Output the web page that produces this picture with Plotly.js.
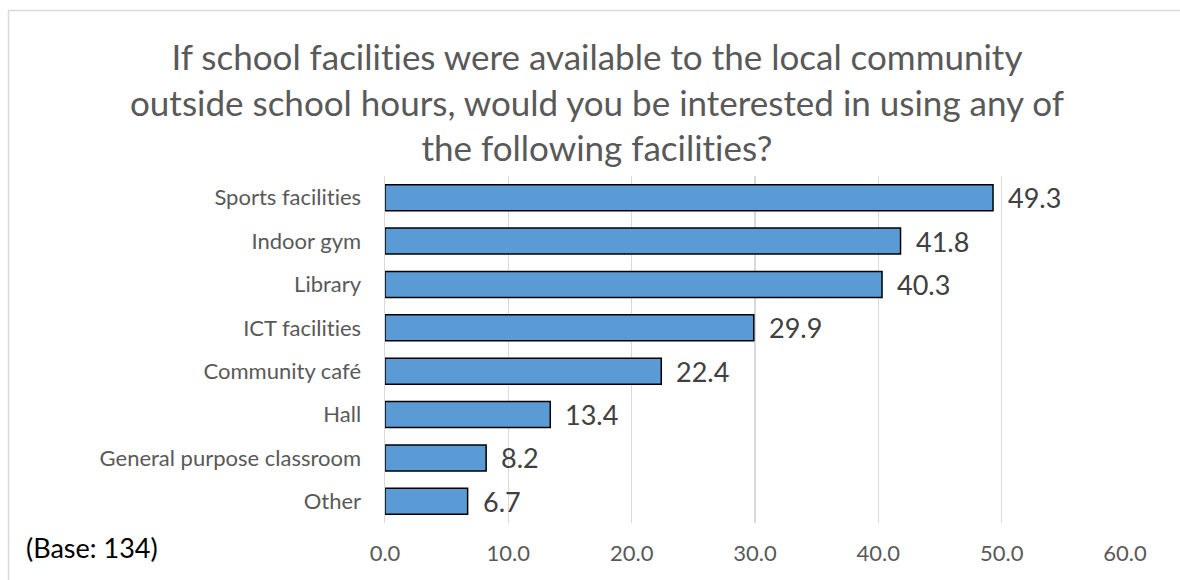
<!DOCTYPE html>
<html>
<head>
<meta charset="utf-8">
<script src="https://cdn.plot.ly/plotly-3.0.1.min.js"></script>
<style>
html,body{margin:0;padding:0;background:#fff;}
#chart{width:1180px;height:580px;}
#chart text{font-variant-ligatures:none;font-feature-settings:"liga" 0,"clig" 0;}
</style>
</head>
<body>
<div id="chart"></div>
<script>
const categories = ["Sports facilities","Indoor gym","Library","ICT facilities","Community café","Hall","General purpose classroom","Other"];
const values = [49.3, 41.8, 40.3, 29.9, 22.4, 13.4, 8.2, 6.7];
const tickValues = [0,10,20,30,40,50,60];
const tickLabels = ["0.0","10.0","20.0","30.0","40.0","50.0","60.0"];
const titleText = "If school facilities were available to the local community<br>outside school hours, would you be interested in using any of<br>the following facilities?";
const baseNote = "(Base: 134)";

const FONT = "Lato, 'Open Sans', sans-serif";
// pixel helpers for plot area l=385, r=1125, t=176, b=523
const L=385, R=1125, T=176, B=523;
const px = x => (x - L)/(R - L);
const py = y => (B - y)/(B - T);

const trace = {
  type: 'bar',
  orientation: 'h',
  x: values,
  y: categories,
  marker: {color: '#5B9BD5', line: {color: '#000000', width: 1.5}},
  cliponaxis: false,
  hoverinfo: 'none'
};

const valueLabels = values.map((v, i) => ({
  text: v.toFixed(1), x: v, y: categories[i], xref: 'x', yref: 'y',
  xanchor: 'left', yanchor: 'middle', xshift: 13, yshift: 0, showarrow: false,
  font: {family: FONT, size: 27, color: '#404040'}
}));

const layout = {
  width: 1180, height: 580,
  margin: {l: L, r: 1180 - R, t: T, b: 580 - B, pad: 0},
  paper_bgcolor: '#ffffff', plot_bgcolor: '#ffffff',
  showlegend: false,
  bargap: 0.4,
  xaxis: {
    range: [0, 60],
    tickvals: tickValues, ticktext: tickLabels, tickmode: 'array',
    showgrid: true, gridcolor: '#d9d9d9', gridwidth: 1.5,
    zeroline: false, showline: false, ticks: '',
    tickfont: {family: FONT, size: 22, color: '#595959'},
    ticklabelstandoff: 15,
    fixedrange: true
  },
  yaxis: {
    autorange: 'reversed',
    type: 'category',
    showgrid: false, zeroline: false,
    showline: true, linecolor: '#d9d9d9', linewidth: 1.5,
    ticks: '',
    tickfont: {family: FONT, size: 22, color: '#595959'},
    ticklabelstandoff: 18,
    fixedrange: true
  },
  shapes: [{
    type: 'rect', xref: 'paper', yref: 'paper',
    x0: px(8.5), x1: px(1190), y0: py(600), y1: py(10.5),
    line: {color: '#d9d9d9', width: 1.5}, fillcolor: 'rgba(0,0,0,0)', layer: 'below'
  }],
  annotations: [{
    text: titleText, xref: 'paper', yref: 'paper',
    x: px(597), y: py(101), xanchor: 'center', yanchor: 'middle',
    showarrow: false, align: 'center',
    font: {family: FONT, size: 35, color: '#595959'}
  }, {
    text: baseNote, xref: 'paper', yref: 'paper',
    x: px(24), y: py(547), xanchor: 'left', yanchor: 'middle',
    showarrow: false,
    font: {family: FONT, size: 27, color: '#000000'}
  }].concat(valueLabels)
};

Plotly.newPlot('chart', [trace], layout, {displayModeBar: false, staticPlot: true});
</script>
</body>
</html>
